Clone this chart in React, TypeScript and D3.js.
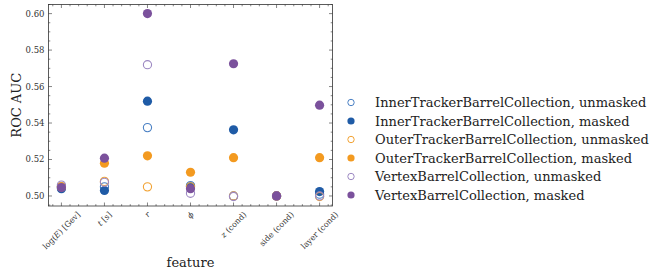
import React, { useMemo } from "react";
import * as d3 from "d3";

const features = ["log(E) [Gev]", "t [s]", "r", "ϕ", "z (cond)", "side (cond)", "layer (cond)"];
const italicPart = [["E"], ["t"], ["r"], ["ϕ"], ["z"], [], []];

const seriesNames = [
  "InnerTrackerBarrelCollection, unmasked",
  "InnerTrackerBarrelCollection, masked",
  "OuterTrackerBarrelCollection, unmasked",
  "OuterTrackerBarrelCollection, masked",
  "VertexBarrelCollection, unmasked",
  "VertexBarrelCollection, masked",
];
const innerUnmasked = [0.505, 0.505, 0.5375, 0.5057, 0.5, 0.5, 0.501];
const innerMasked = [0.504, 0.503, 0.552, 0.505, 0.5363, 0.5, 0.5024];
const outerUnmasked = [0.505, 0.508, 0.505, 0.505, 0.5, 0.5, 0.4997];
const outerMasked = [0.505, 0.518, 0.522, 0.513, 0.521, 0.5, 0.521];
const vertexUnmasked = [0.506, 0.5075, 0.572, 0.5015, 0.4997, 0.5, 0.5];
const vertexMasked = [0.5046, 0.5207, 0.6, 0.504, 0.5725, 0.5, 0.5498];
const seriesValues = [innerUnmasked, innerMasked, outerUnmasked, outerMasked, vertexUnmasked, vertexMasked];
const seriesFilled = [false, true, false, true, false, true];
const seriesColors = ["#4a80c4", "#1f5ba6", "#f2a232", "#f39a20", "#9c88c2", "#7b519c"];
const yTicks = [0.5, 0.52, 0.54, 0.56, 0.58, 0.6];

const W = 652, H = 272;
const L = 48.5, R = 332.5, T = 4.5, B = 206;
const FONT = "'DejaVu Serif', serif";
const TICK_FS = 8.5;
const XT_FS = 8;

function measure(text: string, size: number, italic = false) {
  const c = document.createElement("canvas").getContext("2d")!;
  c.font = `${italic ? "italic " : ""}${size}px DejaVu Serif`;
  return c.measureText(text).width;
}

export default function App() {
  const x = d3.scaleLinear().domain([-0.3, 6.3]).range([L, R]);
  const y = d3.scaleLinear().domain([0.4945, 0.605]).range([B, T]);
  const xMinor = d3.range(-0.2, 6.21, 0.2).filter((v) => Math.abs(v - Math.round(v)) > 1e-6);
  const yMinor = d3.range(0.495, 0.6051, 0.005).filter((v) => Math.abs(v * 50 - Math.round(v * 50)) > 1e-6);
  const stroke = "#333";

  const xLabelLens = useMemo(() => features.map((f) => measure(f, XT_FS)), []);

  const renderLabel = (f: string, i: number) => {
    const it = italicPart[i];
    if (!it.length) return f;
    const ch = it[0];
    const idx = f.indexOf(ch);
    return (
      <>
        {f.slice(0, idx)}
        <tspan fontStyle="italic">{ch}</tspan>
        {f.slice(idx + 1)}
      </>
    );
  };

  return (
    <svg width={W} height={H} style={{ position: "absolute", left: 0, top: 0, background: "#fff" }} fontFamily={FONT}>
      {/* ticks */}
      <g stroke={stroke} strokeWidth={0.6}>
        {d3.range(0, 7).map((v) => (
          <g key={"xm" + v}>
            <line x1={x(v)} x2={x(v)} y1={B} y2={B - 3.5} />
            <line x1={x(v)} x2={x(v)} y1={T} y2={T + 3.5} />
          </g>
        ))}
        {xMinor.map((v, i) => (
          <g key={"xn" + i}>
            <line x1={x(v)} x2={x(v)} y1={B} y2={B - 1.8} />
            <line x1={x(v)} x2={x(v)} y1={T} y2={T + 1.8} />
          </g>
        ))}
        {yTicks.map((v) => (
          <g key={"ym" + v}>
            <line x1={L} x2={L + 3.5} y1={y(v)} y2={y(v)} />
            <line x1={R} x2={R - 3.5} y1={y(v)} y2={y(v)} />
          </g>
        ))}
        {yMinor.map((v, i) => (
          <g key={"yn" + i}>
            <line x1={L} x2={L + 1.8} y1={y(v)} y2={y(v)} />
            <line x1={R} x2={R - 1.8} y1={y(v)} y2={y(v)} />
          </g>
        ))}
      </g>
      <rect x={L} y={T} width={R - L} height={B - T} fill="none" stroke={stroke} strokeWidth={0.8} />

      {/* y tick labels */}
      {yTicks.map((v) => (
        <text key={"yl" + v} x={L - 4} y={y(v)} dy="0.35em" textAnchor="end" fontSize={TICK_FS} fill="#333">
          {v.toFixed(2)}
        </text>
      ))}

      {/* x tick labels */}
      {features.map((f, i) => {
        const len = xLabelLens[i];
        const h = XT_FS * 1.1;
        const half = (len + h) / (2 * Math.SQRT2);
        const cx = x(i);
        const cy = B + 4 + half;
        return (
          <text
            key={"xl" + i}
            x={cx}
            y={cy}
            textAnchor="middle"
            dy="0.35em"
            fontSize={XT_FS}
            fill="#333"
            transform={`rotate(-45 ${cx} ${cy})`}
          >
            {renderLabel(f, i)}
          </text>
        );
      })}

      {/* axis labels */}
      <text x={(L + R) / 2} y={267} textAnchor="middle" fontSize={13} fill="#222">
        feature
      </text>
      <text transform={`translate(21 ${(T + B) / 2}) rotate(-90)`} textAnchor="middle" fontSize={13} fill="#222">
        ROC AUC
      </text>

      {/* points */}
      {seriesValues.map((vals, s) => (
        <g key={"s" + s}>
          {vals.map((v, i) =>
            seriesFilled[s] ? (
              <circle key={i} cx={x(i)} cy={y(v)} r={4.6} fill={seriesColors[s]} />
            ) : (
              <circle key={i} cx={x(i)} cy={y(v)} r={4.1} fill="none" stroke={seriesColors[s]} strokeWidth={1.1} />
            )
          )}
        </g>
      ))}

      {/* legend */}
      {seriesNames.map((name, s) => {
        const ly = 102.5 + s * 18.5;
        return (
          <g key={"lg" + s}>
            {seriesFilled[s] ? (
              <circle cx={351} cy={ly} r={3.6} fill={seriesColors[s]} />
            ) : (
              <circle cx={351} cy={ly} r={3.2} fill="none" stroke={seriesColors[s]} strokeWidth={1} />
            )}
            <text x={375} y={ly} dy="0.35em" fontSize={13} fill="#222">
              {name}
            </text>
          </g>
        );
      })}
    </svg>
  );
}
